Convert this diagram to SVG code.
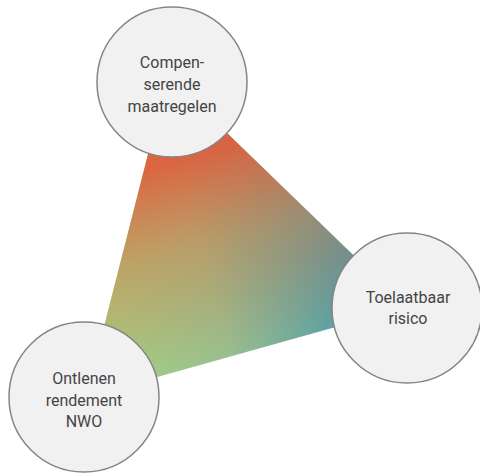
<svg xmlns="http://www.w3.org/2000/svg" width="480" height="473" viewBox="0 0 480 473">
<defs>
<linearGradient id="gBase" gradientUnits="userSpaceOnUse" x1="86" y1="397" x2="407" y2="307">
<stop offset="0" stop-color="#a4da84"/>
<stop offset="0.45" stop-color="#95c293"/>
<stop offset="1" stop-color="#2b8cb8"/>
</linearGradient>
<linearGradient id="gTop" gradientUnits="userSpaceOnUse" x1="168" y1="76" x2="245" y2="352">
<stop offset="0" stop-color="#e4553a" stop-opacity="1"/>
<stop offset="0.3" stop-color="#e25c3a" stop-opacity="0.9"/>
<stop offset="0.6" stop-color="#dc7a40" stop-opacity="0.5"/>
<stop offset="1" stop-color="#dc7a40" stop-opacity="0.05"/>
</linearGradient>
<style>
.node circle{fill:#f1f1f1;stroke:#858585;stroke-width:1.5}
.node text{font-family:Roboto,"Liberation Sans",sans-serif;font-size:16px;fill:#444;text-anchor:middle}
</style>
</defs>
<g id="connectors">
<polygon points="168,76 407,307 86,397" fill="url(#gBase)"/>
<polygon points="168,76 407,307 86,397" fill="url(#gTop)"/>
</g>
<g id="node-compenserende" class="node">
<circle cx="172" cy="82" r="75"/>
<text x="172" y="68">Compen-</text>
<text x="172" y="90">serende</text>
<text x="172" y="112">maatregelen</text>
</g>
<g id="node-toelaatbaar" class="node">
<circle cx="407" cy="308" r="75"/>
<text x="408" y="303">Toelaatbaar</text>
<text x="408" y="324">risico</text>
</g>
<g id="node-ontlenen" class="node">
<circle cx="84" cy="397" r="75"/>
<text x="84" y="384">Ontlenen</text>
<text x="84" y="406">rendement</text>
<text x="84" y="427">NWO</text>
</g>
</svg>
